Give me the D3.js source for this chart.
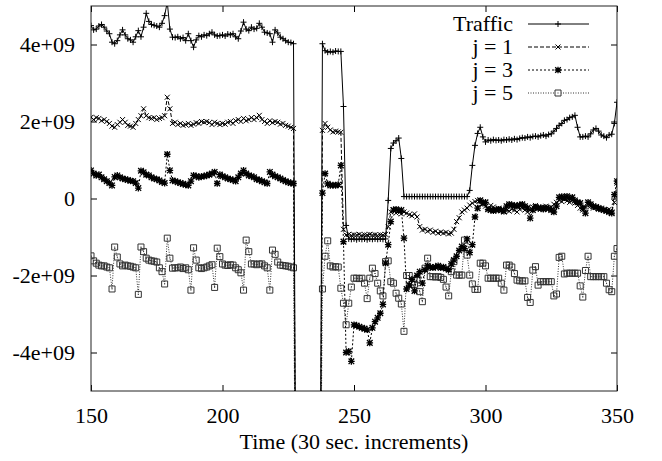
<!DOCTYPE html>
<html>
<head>
<meta charset="utf-8">
<script src="https://cdn.jsdelivr.net/npm/d3@7"></script>
<style>
  body { margin: 0; background: #fff; }
  svg { display: block; }
  text { font-family: "Liberation Serif", "Times New Roman", serif; fill: #000; }
</style>
</head>
<body>
<div id="chart"></div>
<script>
// time axis, one sample per 30 sec. step
var times = d3.range(150, 351);

// values in units of 1e9; 228..237 is the outage (drops below the axis, then no data)
var traffic = [
  4.49, 4.38, 4.40, 4.48, 4.52, 4.45, 4.35, 4.28, 4.06, 4.02,
  4.10, 4.25, 4.38, 4.25, 4.15, 4.12, 4.06, 4.20, 4.36, 4.20,
  4.45, 4.81, 4.60, 4.52, 4.50, 4.48, 4.45, 4.55, 4.75, 5.10,
  4.40, 4.19, 4.18, 4.20, 4.15, 4.18, 4.10, 4.28, 4.10, 3.93,
  4.12, 4.23, 4.20, 4.25, 4.23, 4.28, 4.32, 4.25, 4.22, 4.23,
  4.25, 4.22, 4.27, 4.25, 4.28, 4.20, 4.15, 4.35, 4.58, 4.40,
  4.36, 4.45, 4.40, 4.42, 4.55, 4.45, 4.32, 4.30, 4.28, 4.06,
  4.38, 4.30, 4.19, 4.15, 4.10, 4.06, 4.05, 4.02, -10, null,
  null, null, null, null, null, null, null, -10, 4.02, 3.84,
  3.80, 3.82, 3.80, 3.83, 3.82, 3.82, 2.39, -0.70, -1.05, -1.06,
  -1.05, -1.07, -1.05, -1.06, -1.05, -1.07, -1.05, -1.06, -1.05, -1.06,
  -1.05, -1.06, -1.05, -0.05, 1.30, 1.44, 1.50, 1.57, 1.04, 0.05,
  0.05, 0.05, 0.05, 0.05, 0.05, 0.05, 0.05, 0.05, 0.05, 0.05,
  0.05, 0.05, 0.05, 0.05, 0.05, 0.05, 0.05, 0.05, 0.05, 0.05,
  0.05, 0.05, 0.05, 0.05, 0.21, 0.86, 1.38, 1.69, 1.85, 1.60,
  1.47, 1.52, 1.50, 1.53, 1.51, 1.52, 1.50, 1.53, 1.52, 1.54,
  1.52, 1.55, 1.53, 1.56, 1.58, 1.57, 1.60, 1.58, 1.61, 1.62,
  1.60, 1.63, 1.65, 1.62, 1.66, 1.68, 1.75, 1.82, 1.90, 1.95,
  2.03, 2.05, 2.10, 2.12, 2.16, 1.85, 1.60, 1.60, 1.62, 1.60,
  1.68, 1.78, 1.82, 1.75, 1.65, 1.62, 1.58, 1.65, 1.67, 1.95,
  2.50
];

var j1 = [
  2.11, 2.05, 2.10, 2.08, 2.02, 2.05, 2.00, 1.95, 1.88, 1.85,
  1.92, 1.98, 2.05, 1.98, 1.90, 1.88, 1.85, 1.95, 2.05, 2.15,
  2.33, 2.15, 2.10, 2.08, 2.10, 2.05, 2.08, 2.10, 2.15, 2.63,
  2.33, 1.95, 1.98, 1.92, 1.95, 1.90, 1.92, 1.95, 1.90, 1.93,
  1.97, 1.95, 2.00, 1.98, 2.00, 1.97, 1.92, 1.98, 1.95, 1.92,
  1.95, 1.93, 1.98, 2.00, 1.95, 2.02, 2.05, 2.00, 2.08, 2.02,
  2.05, 2.10, 2.05, 2.10, 2.16, 2.05, 2.00, 1.95, 2.02, 1.97,
  2.00, 1.98, 1.93, 1.95, 1.90, 1.88, 1.85, 1.82, -10, null,
  null, null, null, null, null, null, null, -10, 1.77, 1.95,
  1.85, 1.78, 1.73, 1.75, 1.73, 1.72, -0.80, -0.95, -0.93, -0.96,
  -0.94, -0.95, -0.93, -0.96, -0.94, -0.95, -0.93, -0.95, -0.94, -0.96,
  -0.94, -0.95, -0.93, -0.73, -0.35, -0.30, -0.38, -0.33, -0.40, -0.35,
  -0.38, -0.42, -0.45, -0.40, -0.48, -0.73, -0.82, -0.80, -0.85, -0.82,
  -0.88, -0.85, -0.90, -0.87, -0.90, -0.88, -0.92, -0.90, -0.80, -0.60,
  -0.50, -0.35, -0.30, -0.25, -0.17, -0.12, -0.08, -0.05, -0.04, -0.15,
  -0.20, -0.25, -0.18, -0.22, -0.28, -0.25, -0.32, -0.35, -0.30, -0.33,
  -0.28, -0.30, -0.35, -0.28, -0.25, -0.30, -0.35, -0.30, -0.22, -0.18,
  -0.25, -0.28, -0.22, -0.20, -0.25, -0.22, -0.15, -0.10, -0.05, -0.08,
  -0.02, -0.06, -0.10, -0.05, -0.12, -0.18, -0.25, -0.30, -0.22, -0.15,
  -0.20, -0.25, -0.22, -0.28, -0.25, -0.30, -0.33, -0.28, -0.35, -0.10,
  0.40
];

var j3 = [
  0.73, 0.65, 0.60, 0.62, 0.55, 0.50, 0.45, 0.40, 0.34, 0.56,
  0.60, 0.55, 0.52, 0.50, 0.48, 0.46, 0.45, 0.40, 0.27, 0.72,
  0.68, 0.62, 0.60, 0.55, 0.52, 0.50, 0.47, 0.43, 0.40, 1.15,
  0.73, 0.47, 0.45, 0.42, 0.40, 0.38, 0.36, 0.34, 0.45, 0.60,
  0.58, 0.55, 0.57, 0.58, 0.60, 0.62, 0.65, 0.69, 0.39, 0.62,
  0.58, 0.55, 0.52, 0.50, 0.48, 0.45, 0.55, 0.65, 0.73, 0.65,
  0.60, 0.58, 0.55, 0.50, 0.48, 0.45, 0.42, 0.39, 0.69, 0.62,
  0.58, 0.55, 0.52, 0.48, 0.45, 0.42, 0.40, 0.39, -10, null,
  null, null, null, null, null, null, null, -10, 0.14, 0.65,
  0.38, 0.34, 0.35, 0.34, 0.36, 0.86, -1.12, -4.00, -3.97, -4.23,
  -3.28, -3.30, -3.33, -3.36, -3.38, -3.41, -3.75, -3.36, -3.20, -3.10,
  -2.98, -2.75, -1.68, -1.20, -0.60, -0.30, -0.28, -0.32, -0.30, -1.03,
  -2.35, -2.25, -2.10, -2.40, -2.00, -1.90, -2.20, -1.85, -1.75, -1.78,
  -1.80, -1.78, -1.75, -1.80, -1.78, -1.82, -1.85, -1.70, -1.60, -1.50,
  -1.35, -1.25, -1.30, -1.05, -1.40, -1.20, -0.48, -0.25, -0.05, -0.12,
  -0.10, -0.28, -0.30, -0.32, -0.30, -0.28, -0.30, -0.33, -0.20, -0.15,
  -0.17, -0.18, -0.20, -0.17, -0.15, -0.20, -0.25, -0.51, -0.30, -0.22,
  -0.25, -0.24, -0.28, -0.25, -0.26, -0.30, -0.35, -0.20, 0.03, 0.05,
  0.02, 0.06, 0.00, 0.03, -0.05, -0.10, -0.12, -0.25, -0.38, -0.10,
  -0.15, -0.20, -0.22, -0.25, -0.28, -0.30, -0.32, -0.35, -0.38, 0.10,
  0.45
];

var j5 = [
  -1.49, -1.62, -1.68, -1.73, -1.75, -1.75, -1.78, -1.80, -2.35, -1.26,
  -1.52, -1.70, -1.75, -1.73, -1.75, -1.76, -1.78, -1.80, -2.49, -1.26,
  -1.38, -1.55, -1.60, -1.62, -1.63, -1.65, -1.80, -1.90, -2.22, -1.03,
  -1.55, -1.81, -1.80, -1.80, -1.78, -1.82, -1.80, -1.85, -2.38, -1.28,
  -1.60, -1.80, -1.82, -1.80, -1.78, -1.75, -1.72, -2.31, -1.29, -1.51,
  -1.70, -1.73, -1.74, -1.72, -1.73, -1.80, -1.85, -1.93, -2.38, -1.08,
  -1.38, -1.70, -1.70, -1.72, -1.70, -1.70, -1.75, -1.80, -2.38, -1.34,
  -1.45, -1.65, -1.73, -1.74, -1.75, -1.76, -1.78, -1.80, -10, null,
  null, null, null, null, null, null, null, -10, -2.35, -1.50,
  -1.10, -1.75, -1.78, -1.77, -1.78, -2.33, -2.72, -3.28, -2.72, -2.30,
  -2.07, -2.07, -2.08, -2.07, -2.20, -2.60, -2.07, -1.81, -1.95, -2.20,
  -2.40, -2.53, -1.64, -1.62, -2.16, -2.20, -2.46, -2.59, -2.74, -3.45,
  -2.00, -2.00, -2.23, -2.23, -2.10, -2.42, -2.68, -1.81, -1.55, -2.03,
  -2.03, -2.04, -2.03, -2.05, -2.10, -2.30, -2.53, -1.90, -1.64, -1.99,
  -1.99, -1.99, -1.08, -1.47, -1.99, -2.22, -2.36, -2.36, -1.68, -1.68,
  -1.75, -2.07, -2.07, -2.07, -2.07, -2.07, -2.20, -2.38, -1.73, -1.73,
  -1.78, -1.95, -2.12, -2.14, -2.14, -2.14, -2.57, -2.70, -1.86, -1.77,
  -2.25, -2.16, -2.16, -2.16, -2.16, -2.16, -2.53, -2.48, -1.53, -1.50,
  -1.96, -1.94, -1.94, -1.94, -1.94, -1.94, -2.27, -2.56, -1.87, -1.50,
  -2.03, -2.03, -2.03, -2.03, -2.03, -2.03, -2.20, -2.37, -2.42, -1.50,
  -1.30
];

var seriesNames = ["Traffic", "j = 1", "j = 3", "j = 5"];
var xTicks = [150, 200, 250, 300, 350];
var yTicks = [-4, -2, 0, 2, 4];
var yTickLabels = ["-4e+09", "-2e+09", "0", "2e+09", "4e+09"];

function drawChart() {
  var width = 662, height = 461;
  var mLeft = 91, mRight = 617, mTop = 6, mBottom = 391;
  var fontSize = 22;

  var svg = d3.select("#chart").append("svg")
      .attr("width", width)
      .attr("height", height);

  var x = d3.scaleLinear().domain([150, 350]).range([mLeft, mRight]);
  var y = d3.scaleLinear().domain([-5, 5]).range([mBottom, mTop]);

  svg.append("clipPath").attr("id", "plotclip")
    .append("rect")
      .attr("x", mLeft).attr("y", mTop)
      .attr("width", mRight - mLeft).attr("height", mBottom - mTop);

  // ticks on all four sides, pointing inward
  var tickLen = 6;
  svg.append("g").attr("transform", "translate(0," + mBottom + ")")
      .call(d3.axisBottom(x).tickValues(xTicks).tickSizeInner(-tickLen).tickSizeOuter(0).tickPadding(16));
  svg.append("g").attr("transform", "translate(0," + mTop + ")")
      .call(d3.axisTop(x).tickValues(xTicks).tickSizeInner(-tickLen).tickSizeOuter(0).tickFormat(""));
  svg.append("g").attr("transform", "translate(" + mLeft + ",0)")
      .call(d3.axisLeft(y).tickValues(yTicks).tickSizeInner(-tickLen).tickSizeOuter(0).tickPadding(16)
        .tickFormat(function (d, i) { return yTickLabels[i]; }));
  svg.append("g").attr("transform", "translate(" + mRight + ",0)")
      .call(d3.axisRight(y).tickValues(yTicks).tickSizeInner(-tickLen).tickSizeOuter(0).tickFormat(""));

  svg.selectAll(".domain").remove();
  svg.selectAll(".tick line").attr("stroke", "#000");
  svg.selectAll(".tick text")
      .attr("font-family", "'Liberation Serif', 'Times New Roman', serif")
      .attr("font-size", fontSize)
      .attr("fill", "#000");

  svg.append("rect")
      .attr("x", mLeft).attr("y", mTop)
      .attr("width", mRight - mLeft).attr("height", mBottom - mTop)
      .attr("fill", "none")
      .attr("stroke", "#222")
      .attr("stroke-width", 1);

  svg.append("text")
      .attr("x", (mLeft + mRight) / 2)
      .attr("y", 449)
      .attr("text-anchor", "middle")
      .attr("font-size", fontSize)
      .text("Time (30 sec. increments)");

  // marker shapes, gnuplot style
  function plus(r) { return "M" + (-r) + ",0H" + r + "M0," + (-r) + "V" + r; }
  function cross(r) { return "M" + (-r) + "," + (-r) + "L" + r + "," + r + "M" + (-r) + "," + r + "L" + r + "," + (-r); }
  function star(r) { return plus(r + 0.5) + cross(r); }
  function box(r) { return "M" + (-r) + "," + (-r) + "H" + r + "V" + r + "H" + (-r) + "Z M-0.5,0H0.5"; }

  var series = [
    { name: seriesNames[0], values: traffic, dash: null, marker: plus(3), color: "#000", mw: 1 },
    { name: seriesNames[1], values: j1, dash: "4,2", marker: cross(2.5), color: "#000", mw: 1 },
    { name: seriesNames[2], values: j3, dash: "2,2", marker: star(2.8), color: "#000", mw: 1.3 },
    { name: seriesNames[3], values: j5, dash: "1,1.5", marker: box(3), color: "#333", mw: 1 }
  ];

  var line = d3.line()
      .defined(function (d) { return d.v !== null; })
      .x(function (d) { return x(d.t); })
      .y(function (d) { return y(d.v); });

  var plot = svg.append("g").attr("clip-path", "url(#plotclip)");

  series.slice().reverse().forEach(function (s) {
    var pts = times.map(function (t, i) { return { t: t, v: s.values[i] }; });
    plot.append("path")
        .datum(pts)
        .attr("fill", "none")
        .attr("stroke", s.color)
        .attr("stroke-width", 1)
        .attr("stroke-dasharray", s.dash)
        .attr("d", line);
    plot.selectAll(null)
        .data(pts.filter(function (d) { return d.v !== null && d.v > -6; }))
        .enter().append("path")
        .attr("transform", function (d) { return "translate(" + x(d.t) + "," + y(d.v) + ")"; })
        .attr("d", s.marker)
        .attr("fill", "none")
        .attr("stroke", s.color)
        .attr("stroke-width", s.mw);
  });

  // legend, top right
  var legend = svg.append("g");
  series.forEach(function (s, i) {
    var ly = 24 + i * 23;
    legend.append("text")
        .attr("x", 513).attr("y", ly + 7)
        .attr("text-anchor", "end")
        .attr("font-size", fontSize)
        .text(s.name);
    legend.append("line")
        .attr("x1", 528).attr("x2", 589)
        .attr("y1", ly).attr("y2", ly)
        .attr("stroke", s.color)
        .attr("stroke-dasharray", s.dash);
    legend.append("path")
        .attr("transform", "translate(558," + ly + ")")
        .attr("d", s.marker)
        .attr("fill", "#fff")
        .attr("stroke", s.color)
        .attr("stroke-width", s.mw);
  });
}

drawChart();
</script>
</body>
</html>
